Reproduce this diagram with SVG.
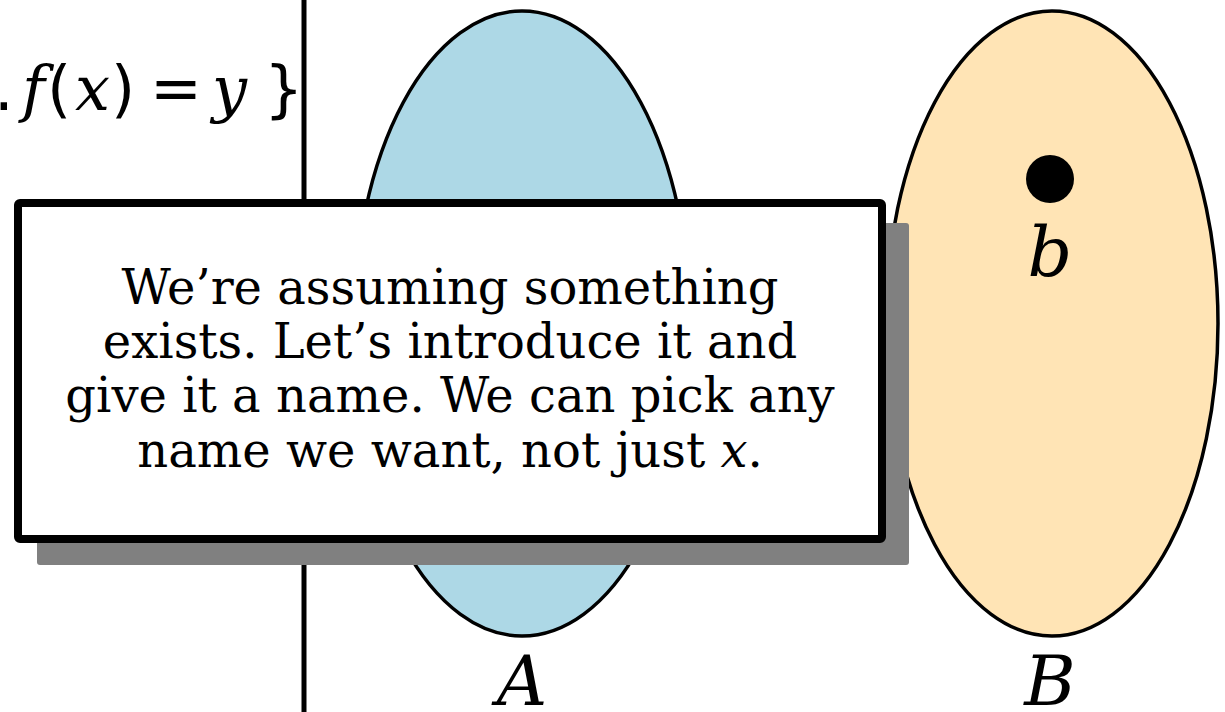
<svg xmlns="http://www.w3.org/2000/svg" width="1225" height="712" viewBox="0 0 1225 712">
<style>
.set{stroke:#000;stroke-width:3.5}
.math{font-family:"DejaVu Serif",serif;font-style:italic;fill:#000}
.fi{font-family:"DejaVu Serif",serif;font-style:italic;font-size:62px;fill:#000}
.fs{font-family:"DejaVu Sans",sans-serif;font-size:62px;fill:#000}
.body{font-family:"DejaVu Serif",serif;font-size:48px;fill:#000;text-anchor:middle}
</style>
<rect width="1225" height="712" fill="#fff"/>
<g id="formula">
<text class="fs" x="-6" y="110">.</text>
<text class="fi" x="22" y="110">f</text>
<text class="fs" x="47" y="110">(</text>
<text class="fi" x="75" y="110">x</text>
<text class="fs" x="111" y="110">)</text>
<text class="fs" x="150" y="110">=</text>
<text class="fi" x="212" y="110">y</text>
<text class="fs" x="264" y="110">}</text>
</g>
<g id="divider">
<line x1="304" y1="0" x2="304" y2="712" stroke="#000" stroke-width="5"/>
</g>
<g id="setA">
<ellipse class="set" cx="522" cy="323.5" rx="168" ry="312.5" fill="#ADD8E6"/>
<text class="math" x="522" y="705" font-size="70" text-anchor="middle">A</text>
</g>
<g id="setB">
<ellipse class="set" cx="1052" cy="323.5" rx="166" ry="312.5" fill="#FFE4B5"/>
<text class="math" x="1050" y="705" font-size="70" text-anchor="middle">B</text>
</g>
<g id="elem-b">
<circle cx="1050" cy="179" r="24" fill="#000"/>
<text class="math" x="1050" y="276" font-size="70" text-anchor="middle">b</text>
</g>
<g id="callout">
<rect x="37" y="223" width="872" height="342" rx="3" fill="#808080"/>
<rect x="18" y="203" width="864" height="336" rx="2" fill="#fff" stroke="#000" stroke-width="8"/>
<text class="body" x="450" y="304">We’re assuming something</text>
<text class="body" x="450" y="358">exists. Let’s introduce it and</text>
<text class="body" x="450" y="412">give it a name. We can pick any</text>
<text class="body" x="450" y="467">name we want, not just <tspan font-style="italic">x</tspan>.</text>
</g>
</svg>
